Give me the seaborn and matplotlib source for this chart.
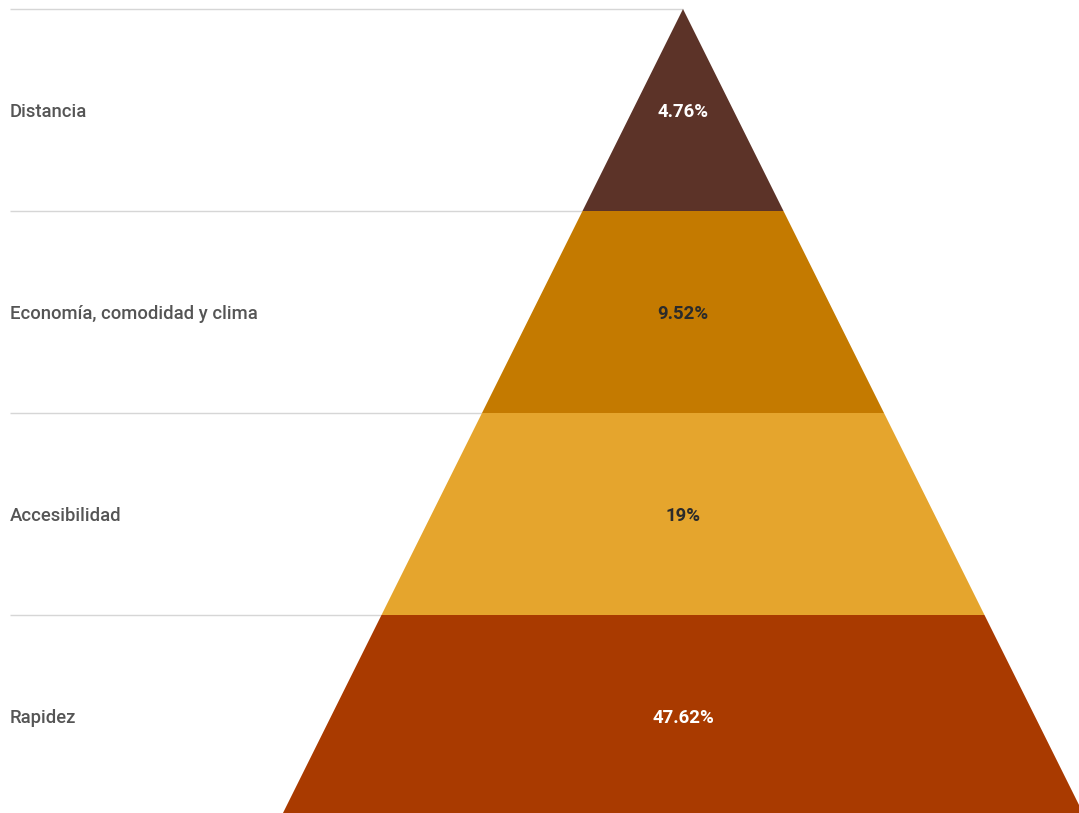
import matplotlib
matplotlib.use("Agg")
import matplotlib.pyplot as plt
import seaborn as sns

# Pyramid levels, listed from the base up
categories = ["Rapidez", "Accesibilidad", "Economía, comodidad y clima", "Distancia"]
shares = [47.62, 19, 9.52, 4.76]
value_labels = ["47.62%", "19%", "9.52%", "4.76%"]
level_colors = ["#A93A00", "#E5A52D", "#C47A00", "#5C3328"]
text_colors = ["#FFFFFF", "#2B2B2B", "#2B2B2B", "#FFFFFF"]

sns.set_theme(style="white")
plt.rcParams["font.family"] = ["Roboto", "DejaVu Sans"]

fig = plt.figure(figsize=(10.79, 8.13), dpi=100)
ax = fig.add_axes([0, 0, 1, 1])

n = len(categories)
half_base = 1.0  # half-width of the pyramid base
label_x = -673 / 402


def half_width(level):
    return half_base * (n - level) / n


for i, (cat, lab, col, tc) in enumerate(zip(categories, value_labels, level_colors, text_colors)):
    y0, y1 = i, i + 1
    w0, w1 = half_width(y0), half_width(y1)
    ax.fill([-w0, w0, w1, -w1], [y0, y0, y1, y1], color=col, lw=0, zorder=2)
    ax.text(0, i + 0.5, lab, ha="center", va="center_baseline", color=tc,
            fontsize=13.4, fontweight="bold", zorder=3)
    ax.text(label_x, i + 0.5, cat, ha="left", va="center_baseline", color="#555555",
            fontsize=13.3, fontweight="medium", zorder=3)

# Separator lines from the left margin to the pyramid edge
for lvl in range(1, n + 1):
    ax.plot([label_x, -half_width(lvl)], [lvl, lvl], color="#D6D6D6", lw=1.0,
            zorder=1, solid_capstyle="butt")

ax.set_xlim(-683 / 402, (1079 - 683) / 402)
ax.set_ylim(4 / 202, n + 9 / 202)
ax.axis("off")

fig.savefig("out.png", dpi=100)
